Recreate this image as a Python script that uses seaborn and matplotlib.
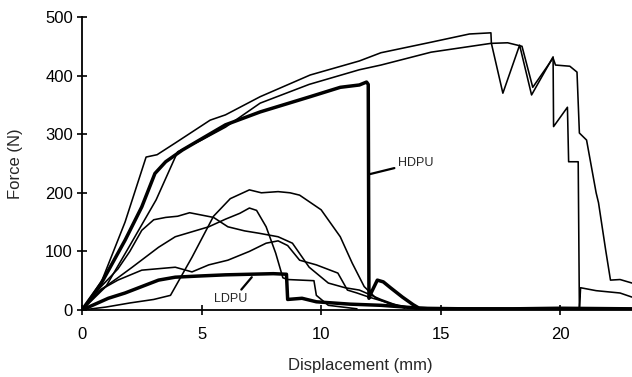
import numpy as np
import pandas as pd
import matplotlib
matplotlib.use("Agg")
import matplotlib.pyplot as plt
import seaborn as sns

# ---------------- data ----------------
A_x = [0, 0.84, 1.8, 2.68, 3.14, 3.9, 5.36, 6.0, 7.45, 9.54, 11.6, 12.5, 14.6, 16.2, 17.1,
       17.12, 17.6, 18.3, 18.8, 19.7, 19.72, 20.3, 20.35, 20.75, 20.8, 20.85, 21.5, 22.5, 23.0]
A_y = [0, 51, 150, 261, 265, 285, 324, 333, 364, 401, 425, 439, 457, 471, 473,
       455, 370, 452, 367, 432, 313, 346, 253, 253, 0, 38, 33, 29, 22]

B_x = [0, 1.0, 2.0, 3.1, 4.0, 5.0, 6.0, 7.45, 9.5, 11.6, 12.5, 14.6, 17.1, 17.8, 18.4,
       18.85, 19.7, 19.8, 20.4, 20.7, 20.8, 21.1, 21.5, 21.6, 21.9, 22.1, 22.5, 23.0]
B_y = [0, 40, 110, 188, 270, 290, 312, 353, 385, 410, 418, 440, 455, 456, 450,
       380, 430, 418, 416, 406, 302, 290, 200, 183, 102, 51, 52, 46]

HDPU_x = [0, 0.8, 1.8, 2.5, 3.05, 3.5, 4.2, 6.0, 7.45, 9.54, 10.8, 11.6, 11.9, 11.97,
          12.0, 12.1, 12.35, 12.6, 12.9, 13.4, 13.85, 14.1, 16, 18, 20, 23]
HDPU_y = [0, 45, 119, 176, 233, 253, 273, 316, 338, 364, 380, 384, 389, 385,
          20, 30, 51, 48, 38, 22, 9, 3, 2, 2, 3, 2]

LDPU_x = [0, 1.1, 1.8, 2.5, 3.2, 3.9, 4.9, 6.0, 7.0, 8.0, 8.55, 8.6, 9.2, 9.8, 11.2,
          12.5, 13.5, 14.5, 23]
LDPU_y = [0, 20, 29, 40, 51, 56, 58, 60, 61, 62, 61, 18, 20, 14, 10,
          8, 5, 2, 1]

C_x = [0, 1.0, 2.0, 3.0, 3.7, 4.6, 5.5, 6.2, 7.0, 7.5, 8.2, 8.7, 9.1, 10.0, 10.8,
       11.3, 11.8, 12.3, 13.0, 14.0]
C_y = [0, 5, 12, 18, 25, 90, 160, 190, 205, 200, 202, 200, 196, 171, 125,
       80, 40, 20, 8, 2]

D_x = [0, 0.8, 1.5, 2.0, 2.5, 3.0, 3.5, 4.0, 4.5, 5.0, 5.5, 6.1, 6.8, 7.4, 8.2, 8.8,
       9.5, 10.3, 11.0, 11.6, 12.5, 13.5]
D_y = [0, 40, 70, 100, 136, 154, 158, 160, 166, 162, 158, 142, 135, 131, 125, 114,
       73, 46, 38, 34, 18, 3]

E_x = [0, 0.8, 1.5, 2.1, 3.2, 3.9, 5.3, 6.0, 6.6, 7.0, 7.3, 7.7, 8.1, 8.4, 8.6, 9.7,
       9.8, 10.3, 11.5]
E_y = [0, 35, 55, 73, 107, 125, 142, 155, 165, 174, 170, 142, 97, 55, 52, 50,
       25, 8, 2]

G_x = [0, 0.8, 1.5, 2.5, 3.9, 4.6, 5.3, 6.1, 7.0, 7.7, 8.2, 8.6, 9.1, 9.8, 10.7,
       11.1, 11.5, 12.0, 13.0, 14.0]
G_y = [0, 35, 51, 68, 73, 65, 77, 85, 100, 114, 118, 110, 85, 77, 63,
       34, 29, 22, 10, 2]

x_ticks = [0, 5, 10, 15, 20]
y_ticks = [0, 100, 200, 300, 400, 500]

curves = [
    ("A", A_x, A_y, 1.15),
    ("B", B_x, B_y, 1.15),
    ("C", C_x, C_y, 1.15),
    ("D", D_x, D_y, 1.15),
    ("E", E_x, E_y, 1.15),
    ("G", G_x, G_y, 1.15),
    ("HDPU", HDPU_x, HDPU_y, 2.5),
    ("LDPU", LDPU_x, LDPU_y, 2.5),
]

# ---------------- plot ----------------
sns.set_theme(style="ticks")
plt.rcParams["font.family"] = ["Liberation Sans", "DejaVu Sans"]

fig = plt.figure(figsize=(6.32, 3.77), dpi=100)
ax = fig.add_axes([82 / 632, 67 / 377, 1 - 82 / 632, 293 / 377])

for name, xs, ys, lw in curves:
    df = pd.DataFrame({"x": xs, "y": ys})
    sns.lineplot(data=df, x="x", y="y", ax=ax, color="black", linewidth=lw,
                 estimator=None, sort=False, legend=False)

ax.set_xlim(0, 23.0)
ax.set_ylim(0, 500)
ax.set_xticks(x_ticks)
ax.set_yticks(y_ticks)
ax.tick_params(axis="both", direction="inout", length=7, width=1.2,
               labelsize=12, colors="black")
ax.tick_params(axis="x", pad=9)
ax.tick_params(axis="y", pad=3)
for s in ["top", "right"]:
    ax.spines[s].set_visible(False)
for s in ["left", "bottom"]:
    ax.spines[s].set_color("black")
    ax.spines[s].set_linewidth(1.3)

ax.set_xlabel("Displacement (mm)", fontsize=12)
ax.set_ylabel("Force (N)", fontsize=12)
ax.xaxis.set_label_coords((360 - 82) / 550, (310 - 358) / 293)
ax.yaxis.set_label_coords((23 - 82) / 550, 0.5)

ax.annotate("HDPU", xy=(12.05, 232), xytext=(13.2, 251), fontsize=9,
            va="center", ha="left",
            arrowprops=dict(arrowstyle="-", color="black", lw=1.6,
                            shrinkA=0, shrinkB=0))
ax.annotate("LDPU", xy=(7.1, 56), xytext=(5.5, 19), fontsize=9,
            va="center", ha="left",
            arrowprops=dict(arrowstyle="-", color="black", lw=1.6,
                            shrinkA=0, shrinkB=0, relpos=(0.75, 1.0)))

fig.savefig("out.png", dpi=100, facecolor="white")
